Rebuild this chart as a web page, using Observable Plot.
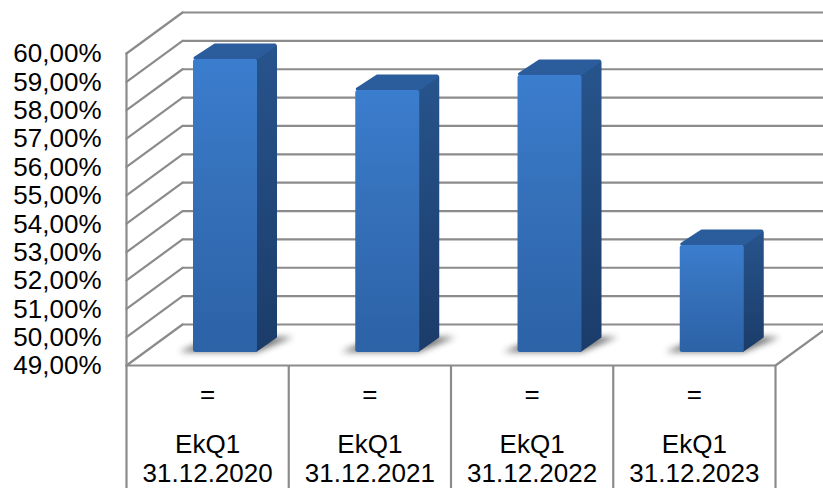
<!DOCTYPE html>
<html><head><meta charset="utf-8">
<script src="https://cdn.jsdelivr.net/npm/d3@7"></script>
<script src="https://cdn.jsdelivr.net/npm/@observablehq/plot@0.6"></script>
<style>html,body{margin:0;padding:0;background:#fff;overflow:hidden}svg{display:block}</style>
</head><body><div id="chart"></div>
<script>
const categories = ["EkQ1\n31.12.2020","EkQ1\n31.12.2021","EkQ1\n31.12.2022","EkQ1\n31.12.2023"];
const prefixes = ["=","=","=","="];
const values = [59.33, 58.24, 58.77, 52.77];
const yTicks = [49,50,51,52,53,54,55,56,57,58,59,60];
const rows = categories.map((c,i)=>({cat:c,value:values[i]}));

const gridColor = "#8b8b8b", font = "Liberation Sans, Arial, sans-serif";
const barW = 64, insetL = 67, insetR = 31.25, baseDy = -13, sideX = 20, sideY = -15;

function defs(){
  const d = d3.create("svg:defs");
  const grad = (id,stops)=>{const g=d.append("linearGradient").attr("id",id).attr("x1",0).attr("y1",0).attr("x2",0).attr("y2",1);
    stops.forEach(([o,c])=>g.append("stop").attr("offset",o).attr("stop-color",c));};
  grad("front",[[0,"#3b7dce"],[0.45,"#3570b9"],[1,"#2c62a6"]]);
  grad("side",[[0,"#27548c"],[1,"#1b3c69"]]);
  d.append("filter").attr("id","soft").attr("x","-30%").attr("y","-80%").attr("width","160%").attr("height","260%")
    .append("feGaussianBlur").attr("stdDeviation",3);
  return d.node();
}
function faces(index,scales,vals,dim,ctx,next){
  const g = next(index,scales,vals,dim,ctx);
  const layer = d3.create("svg:g");
  for (const i of index){
    const x0 = scales.x(rows[i].cat)+insetL, x1 = x0+barW;
    const top = scales.y(rows[i].value)+baseDy, base = scales.y(49)+baseDy;
    const poly=(pts,fill,extra={})=>{const p=layer.append("polygon").attr("points",pts.map(q=>q.join(",")).join(" ")).attr("fill",fill);
      for(const k in extra)p.attr(k,extra[k]);return p;};
    poly([[x0-14,base],[x1,base],[x1+sideX+16,base+sideY],[x0+sideX,base+sideY]],"#666",{filter:"url(#soft)",opacity:0.9});
    poly([[x1-1,top+1],[x1+sideX-1,top+sideY+2],[x1+sideX-1,base+sideY],[x1-1,base-1]],"url(#side)",{stroke:"url(#side)","stroke-width":2,"stroke-linejoin":"round"});
    poly([[x0+2,top-1],[x0+sideX+2,top+sideY+1],[x1+sideX-2,top+sideY+1],[x1,top-1]],"#2b5c9c",{stroke:"#2b5c9c","stroke-width":3,"stroke-linejoin":"round"});
  }
  const out = d3.create("svg:g");
  out.node().appendChild(layer.node());
  out.node().appendChild(g);
  return out.node();
}

const wallShape = {draw(c,l){c.moveTo(0,0);c.lineTo(0,-l);}};
const lineStyle = {stroke:gridColor,strokeWidth:2.2,imageFilter:"blur(0.35px)"};

const chart = Plot.plot({
  width:823, height:488,
  marginTop:53, marginBottom:123, marginLeft:126, marginRight:48,
  style:{background:"#fff",fontFamily:font,color:"#000"},
  x:{type:"band",domain:categories,padding:0,round:false,label:null},
  y:{domain:[49,60],label:null},
  marks:[
    defs,
    Plot.ruleY(yTicks,{dx:56,dy:-41,...lineStyle}),
    Plot.vector(yTicks,{y:d=>d,frameAnchor:"left",length:69.4,rotate:53.8,anchor:"start",shape:wallShape,...lineStyle}),
    Plot.vector([49],{y:d=>d,frameAnchor:"right",length:69.4,rotate:53.8,anchor:"start",shape:wallShape,...lineStyle}),
    Plot.ruleY([49],lineStyle),
    Plot.frame({anchor:"left",...lineStyle}),
    Plot.ruleX(categories,{x:d=>d,dx:-81.125,y1:49,y2:44.6,...lineStyle}),
    Plot.ruleX(categories.slice(-1),{x:d=>d,dx:81.125,y1:49,y2:44.6,...lineStyle}),
    Plot.barY(rows,{x:"cat",y1:()=>49,y2:"value",insetLeft:insetL,insetRight:insetR,dy:baseDy,rx:2.5,fill:"url(#front)",imageFilter:"blur(0.3px)",render:faces}),
    Plot.axisY({ticks:yTicks,tickSize:0,tickPadding:25,fontSize:26,label:null,fill:"#000",dy:0.5,
      tickFormat:d=>d.toFixed(2).replace(".",",")+"%"}),
    Plot.axisX({tickSize:0,tickPadding:19.5,fontSize:26,label:null,fill:"#000",tickFormat:(d,i)=>prefixes[i]}),
    Plot.axisX({tickSize:0,tickPadding:67,fontSize:26,lineHeight:1.11,label:null,fill:"#000"})
  ]
});
document.getElementById("chart").appendChild(chart);
</script></body></html>
